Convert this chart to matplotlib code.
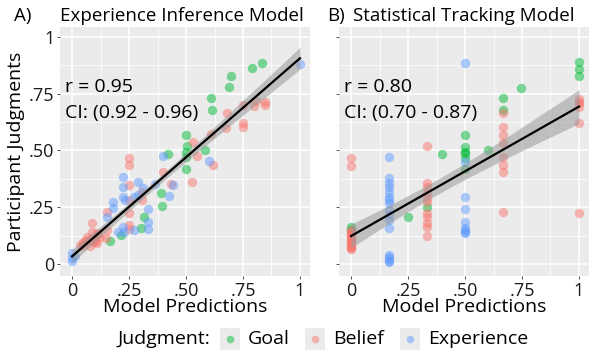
import numpy as np
import matplotlib.pyplot as plt
from matplotlib.patches import Rectangle

plt.rcParams['font.family'] = ['Open Sans', 'DejaVu Sans']

cats = ['Goal', 'Belief', 'Experience']
cols = {'Goal': '#00BA38', 'Belief': '#F8766D', 'Experience': '#619CFF'}
ticks = [0, .25, .5, .75, 1]
tick_labels = ['0', '.25', '.50', '.75', '1']

# panel A: experience inference model
a_goal_x = [0.835, 0.788, 0.697, 0.687, 0.608, 0.613, 0.501, 0.503, 0.499, 0.5, 0.5, 0.583, 0.42,
            0.389, 0.393, 0.316, 0.304, 0.215, 0.168]
a_goal_y = [0.887, 0.864, 0.829, 0.779, 0.732, 0.678, 0.570, 0.521, 0.495, 0.473, 0.419, 0.502, 0.486,
            0.312, 0.255, 0.209, 0.160, 0.127, 0.101]
a_bel_x = [0.807, 0.848, 0.848, 0.80, 0.75, 0.75, 0.75, 0.68, 0.677, 0.61, 0.62, 0.53, 0.55, 0.528,
           0.40, 0.433, 0.25, 0.25, 0.25, 0.305, 0.305, 0.25, 0.25, 0.25, 0.25, 0.152, 0.152, 0.149,
           0.086, 0.042, 0.057, 0.071, 0.086, 0.094, 0.108, 0.079, 0.05, 0.067, 0.086, 0.108, 0.123,
           0.035, 0.1, 0.115]
a_bel_y = [0.719, 0.715, 0.70, 0.695, 0.70, 0.62, 0.605, 0.666, 0.60, 0.571, 0.438, 0.539, 0.476, 0.36,
           0.403, 0.354, 0.467, 0.438, 0.35, 0.319, 0.283, 0.283, 0.224, 0.173, 0.154, 0.23, 0.151, 0.114,
           0.18, 0.092, 0.099, 0.107, 0.114, 0.095, 0.092, 0.080, 0.085, 0.121, 0.143, 0.136, 0.121,
           0.078, 0.10, 0.13]
a_exp_x = [1.0, 0.602, 0.40, 0.444, 0.427, 0.364, 0.29, 0.313, 0.225, 0.222, 0.222, 0.232, 0.27, 0.29,
           0.18, 0.18, 0.335, 0.335, 0.335, 0.27, 0.225, 0.20, 0.23, 0.152, 0.0, 0.0, 0.0, 0.015]
a_exp_y = [0.883, 0.455, 0.476, 0.348, 0.30, 0.353, 0.359, 0.334, 0.382, 0.338, 0.297, 0.283, 0.297,
           0.305, 0.275, 0.246, 0.243, 0.187, 0.154, 0.151, 0.165, 0.143, 0.143, 0.209, 0.048, 0.026,
           0.012, 0.035]

# panel B: statistical tracking model
b_goal_x = [1, 1, 1, 0.747, 0.667, 0.667, 0.5, 0.5, 0.5, 0.5, 0.5, 0.5, 0.6, 0.40, 0.333, 0.25, 0, 0]
b_goal_y = [0.89, 0.86, 0.829, 0.777, 0.732, 0.678, 0.568, 0.517, 0.495, 0.488, 0.466, 0.417, 0.5,
            0.486, 0.253, 0.206, 0.161, 0.151]
b_bel_x = [1, 1, 1, 1, 1, 1] + [0.667] * 8 + [0.333] * 11 + [0] * 16
b_bel_y = [0.728, 0.715, 0.707, 0.692, 0.619, 0.224,
           0.666, 0.602, 0.568, 0.534, 0.473, 0.436, 0.403, 0.227,
           0.521, 0.356, 0.341, 0.312, 0.29, 0.275, 0.224, 0.209, 0.18, 0.165, 0.122,
           0.466, 0.433, 0.151, 0.143, 0.136, 0.128, 0.122, 0.114, 0.107, 0.100, 0.092, 0.085,
           0.078, 0.074, 0.07, 0.066]
b_exp_x = [0.5] * 9 + [0.167] * 17
b_exp_y = [0.886, 0.451, 0.297, 0.242, 0.187, 0.158, 0.143, 0.136, 0.150,
           0.473, 0.378, 0.356, 0.341, 0.319, 0.297, 0.283, 0.268, 0.239, 0.217, 0.195, 0.158,
           0.041, 0.030, 0.022, 0.012, 0.007]

panels = [
    ('A)', 'Experience Inference Model', 'r = 0.95', 'CI: (0.92 - 0.96)',
     {'Goal': (a_goal_x, a_goal_y), 'Belief': (a_bel_x, a_bel_y), 'Experience': (a_exp_x, a_exp_y)}),
    ('B)', 'Statistical Tracking Model', 'r = 0.80', 'CI: (0.70 - 0.87)',
     {'Goal': (b_goal_x, b_goal_y), 'Belief': (b_bel_x, b_bel_y), 'Experience': (b_exp_x, b_exp_y)}),
]

W, H = 589, 354
fig = plt.figure(figsize=(W / 100, H / 100), dpi=100)


def px_axes(l, t, r, b):
    return fig.add_axes([l / W, 1 - b / H, (r - l) / W, (b - t) / H])


lefts = [60, 339]
for i, (tag, title, rtxt, citxt, data) in enumerate(panels):
    L = lefts[i]
    ax = px_axes(L, 27, L + 250, 276)
    ax.set_facecolor('#EBEBEB')
    for s in ax.spines.values():
        s.set_visible(False)
    ax.set_xlim(-0.053, 1.044)
    ax.set_ylim(-0.053, 1.044)
    ax.set_xticks(ticks)
    ax.set_yticks(ticks)
    ax.set_xticks([.125, .375, .625, .875], minor=True)
    ax.set_yticks([.125, .375, .625, .875], minor=True)
    ax.grid(True, which='major', color='white', lw=1.1)
    ax.grid(True, which='minor', color='white', lw=0.55)
    ax.tick_params(which='minor', length=0)
    ax.tick_params(which='major', length=2.5, width=0.6, color='#333333', labelsize=13,
                   labelcolor='#1a1a1a', pad=1.5)
    ax.set_xticklabels(tick_labels)
    if i == 0:
        ax.set_yticklabels(tick_labels)
        ax.set_ylabel('Participant Judgments', fontsize=14, labelpad=3)
    else:
        ax.set_yticklabels([])
    ax.set_xlabel('Model Predictions', fontsize=14, labelpad=-1)
    ax.set_axisbelow(True)

    allx, ally = [], []
    for c in cats:
        x, y = data[c]
        ax.scatter(x, y, s=46, color=cols[c], alpha=0.5, lw=0, zorder=2)
        allx += list(x)
        ally += list(y)
    allx = np.array(allx)
    ally = np.array(ally)
    slope, icpt = np.polyfit(allx, ally, 1)
    n = len(allx)
    resid = ally - (icpt + slope * allx)
    se = np.sqrt(np.sum(resid ** 2) / (n - 2))
    xs = np.linspace(0, 1, 100)
    fit = icpt + slope * xs
    band = 1.98 * se * np.sqrt(1 / n + (xs - allx.mean()) ** 2 / np.sum((allx - allx.mean()) ** 2))
    ax.fill_between(xs, fit - band, fit + band, color='#999999', alpha=0.55, lw=0, zorder=3)
    ax.plot(xs, fit, color='black', lw=1.6, zorder=4)

    ax.text(-0.03, 0.78, rtxt, fontsize=14, va='center', ha='left', zorder=5)
    ax.text(-0.03, 0.665, citxt, fontsize=14, va='center', ha='left', zorder=5)
    ax.set_title(title, fontsize=13.5, loc='left', pad=4, x=0.0 if i == 0 else 0.055)
    fig.text((L - (46 if i == 0 else 12)) / W, 1 - 16 / H, tag, fontsize=13.5, va='center')

# legend along the bottom
lax = px_axes(0, 322, W, 354)
lax.set_xlim(0, W)
lax.set_ylim(354, 322)
lax.axis('off')
lax.text(117, 339, 'Judgment:', fontsize=14, va='center', ha='left')
key_x = [220, 305, 400]
for kx, c in zip(key_x, cats):
    lax.add_patch(Rectangle((kx, 328), 20, 22, color='#EBEBEB', lw=0))
    lax.scatter([kx + 10], [339], s=30, color=cols[c], alpha=0.5, lw=0)
    lax.text(kx + 28, 339, c, fontsize=14, va='center', ha='left')

fig.savefig('out.png', dpi=100)
